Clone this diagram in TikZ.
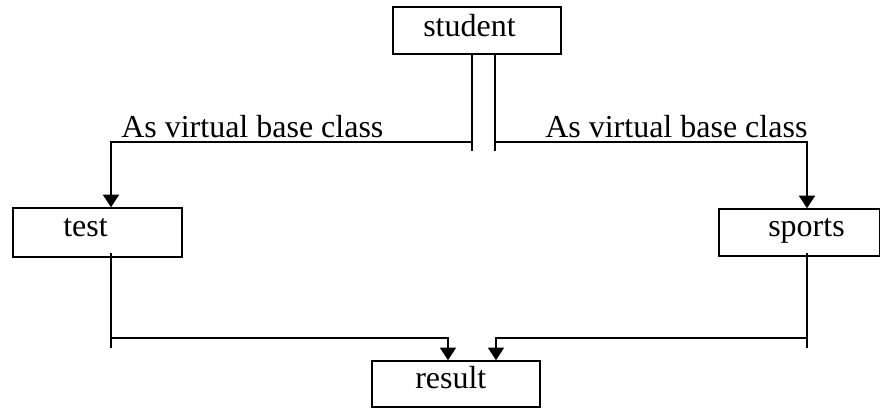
\documentclass[tikz,border=0pt]{standalone}
\usepackage{fontspec}
\setmainfont{Liberation Serif}
\usetikzlibrary{arrows.meta}
\begin{document}
\begin{tikzpicture}[x=0.75pt,y=-0.75pt,
  classbox/.style={draw, line width=1.1pt, inner sep=0pt, minimum width=#1},
  classbox/.default=120pt,
  lbl/.style={anchor=base west, inner sep=0pt, font=\fontsize{24}{28}\selectfont},
  link/.style={line width=1.1pt},
  inherit/.style={line width=1.5pt, -{Triangle[length=9.5pt,width=12pt]}},
  mergeline/.style={line width=1.1pt, -{Triangle[length=9.5pt,width=12pt]}}]
\useasboundingbox (0,0) rectangle (881,408);

% class boxes
\node[classbox=126pt, minimum height=35.25pt] (student) at (477,30.5) {};
\node[classbox=126.75pt, minimum height=36.75pt] (test) at (97.5,232.5) {};
\node[classbox=120.375pt, minimum height=35.25pt] (sports) at (799.25,232.5) {};
\node[classbox=126pt, minimum height=34.5pt] (result) at (456,384) {};

% class names
\node[lbl] (tstudent) at (423,36) {student};
\node[lbl] (ttest) at (63,236) {test};
\node[lbl] (tsports) at (768,236) {sports};
\node[lbl] (tresult) at (415,388) {result};

% edge labels
\node[lbl] (vl) at (121,137) {As virtual base class};
\node[lbl] (vr) at (545,137) {As virtual base class};

% branch points
\coordinate (sl) at (472,151);
\coordinate (sr) at (495,151);
\coordinate (jl) at (472,142);
\coordinate (jr) at (495,142);
\coordinate (tx) at (111,0);
\coordinate (px) at (807,0);
\coordinate (tb) at (111,348);
\coordinate (pb) at (807,348);
\coordinate (bl) at (111,338);
\coordinate (br) at (807,338);
\coordinate (rl) at (448,0);
\coordinate (rr) at (496,0);

% student to test and sports
\draw[link] (sl |- student.south) -- (sl);
\draw[link] (sr |- student.south) -- (sr);
\draw[inherit] (jl) -- (jl -| tx) -- (test.north -| tx);
\draw[inherit] (jr) -- (jr -| px) -- (sports.north -| px);

% test and sports to result
\draw[link] (111,253) -- (tb);
\draw[link] (807,253) -- (pb);
\draw[mergeline] (bl) -- (bl -| rl) -- (result.north -| rl);
\draw[mergeline] (br) -- (br -| rr) -- (result.north -| rr);
\end{tikzpicture}
\end{document}
